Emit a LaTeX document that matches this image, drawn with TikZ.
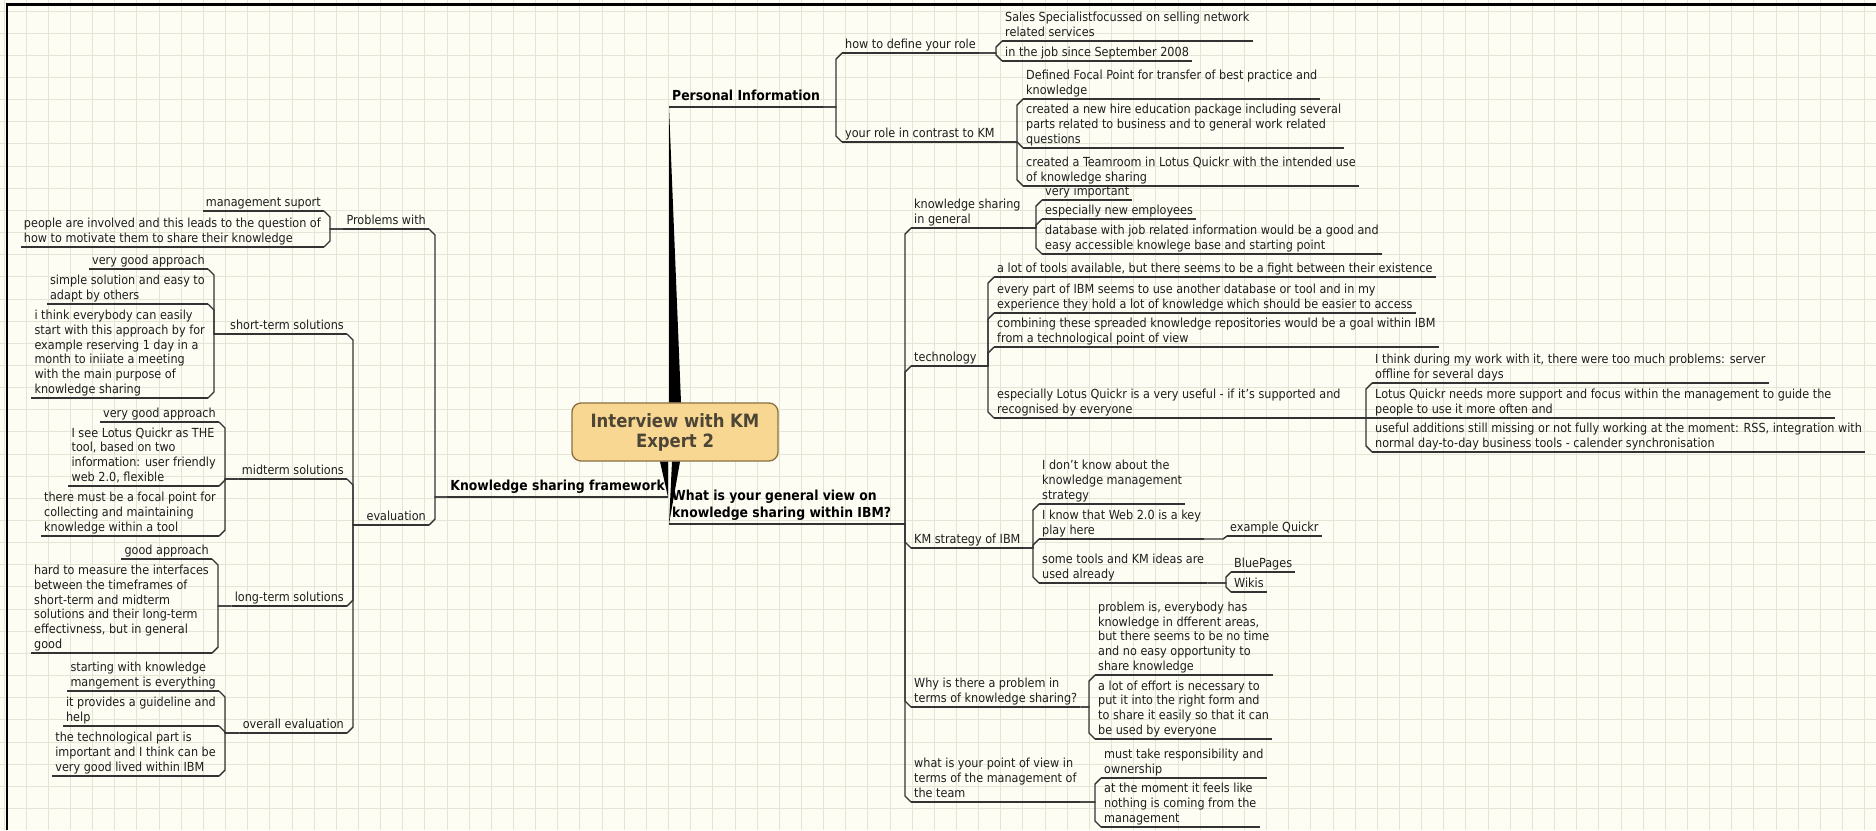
\documentclass[tikz,border=0pt]{standalone}
\usepackage{fontspec}
\IfFontExistsTF{DejaVu Sans Condensed}
  {\setmainfont{DejaVu Sans Condensed}}
  {\setmainfont{DejaVu Sans}[FakeStretch=0.9]}
\definecolor{paper}{HTML}{FDFDF3}
\definecolor{gridc}{HTML}{E4E6D5}
\definecolor{linec}{HTML}{333333}
\definecolor{leaftext}{HTML}{1E1E1E}
\definecolor{rootfill}{HTML}{F8D793}
\definecolor{rootdraw}{HTML}{8B6F3E}
\definecolor{roottext}{HTML}{4D4535}

\begin{document}
\begin{tikzpicture}[x=1pt, y=-1pt,
    central/.style={rectangle, rounded corners=9pt, draw=rootdraw, fill=rootfill, line width=1.3pt,
      minimum width=206pt, minimum height=58pt, align=center, text=roottext,
      font=\fontsize{18.3}{20}\selectfont\bfseries},
    main/.style={font=\fontsize{13.8}{17}\selectfont\bfseries, align=left,
      inner xsep=3pt, inner ysep=0.5pt, text depth=5.5pt},
    leaf/.style={font=\fontsize{12.5}{14.7}\selectfont, text=leaftext, align=left,
      inner xsep=3pt, inner ysep=0.5pt, text depth=4pt},
    link/.style={draw=linec, line width=1.4pt},
    spoke/.style={fill=black}]

\useasboundingbox (0,0) rectangle (1876,830);
\fill[paper] (0,0) rectangle (1876,830);
\begin{scope}[shift={(4,11)}]
  \draw[gridc, line width=0.9pt] (-4,-11) grid[step=22.15pt] (1872,819);
\end{scope}
\draw[line width=2.5pt] (7,830) -- (7,4.5) -- (1876,4.5);

\node[central] (root) at (675,432) {Interview with KM\\Expert 2};

% right: personal information
\node[main, anchor=south west] (pi) at (669,107) {Personal Information};
\node[leaf, anchor=south west] (role) at (842,53) {how to define your role};
\node[leaf, anchor=south west] (contrast) at (842,142) {your role in contrast to KM};
\node[leaf, anchor=south west] (sales) at (1002,41) {Sales Specialistfocussed on selling network\\related services};
\node[leaf, anchor=south west] (job) at (1002,61) {in the job since September 2008};
\node[leaf, anchor=south west] (focal) at (1023,99) {Defined Focal Point for transfer of best practice and\\knowledge};
\node[leaf, anchor=south west] (hire) at (1023,148) {created a new hire education package including several\\parts related to business and to general work related\\questions};
\node[leaf, anchor=south west] (teamroom) at (1023,186) {created a Teamroom in Lotus Quickr with the intended use\\of knowledge sharing};

% right: general view
\node[main, anchor=south west] (gv) at (669,524) {What is your general view on\\knowledge sharing within IBM?};
\node[leaf, anchor=south west] (ksg) at (911,228) {knowledge sharing\\in general};
\node[leaf, anchor=south west] (tech) at (911,366) {technology};
\node[leaf, anchor=south west] (kms) at (911,548) {KM strategy of IBM};
\node[leaf, anchor=south west] (why) at (911,707) {Why is there a problem in\\terms of knowledge sharing?};
\node[leaf, anchor=south west] (pov) at (911,802) {what is your point of view in\\terms of the management of\\the team};

\node[leaf, anchor=south west] (vimp) at (1042,200) {very important};
\node[leaf, anchor=south west] (newemp) at (1042,219) {especially new employees};
\node[leaf, anchor=south west] (database) at (1042,254) {database with job related information would be a good and\\easy accessible knowlege base and starting point};

\node[leaf, anchor=south west] (tools) at (994,277) {a lot of tools available, but there seems to be a fight between their existence};
\node[leaf, anchor=south west] (everypart) at (994,313) {every part of IBM seems to use another database or tool and in my\\experience they hold a lot of knowledge which should be easier to access};
\node[leaf, anchor=south west] (combining) at (994,347) {combining these spreaded knowledge repositories would be a goal within IBM\\from a technological point of view};
\node[leaf, anchor=south west] (quickr) at (994,418) {especially Lotus Quickr is a very useful - if it's supported and\\recognised by everyone};
\node[leaf, anchor=south west] (server) at (1372,383) {I think during my work with it, there were too much problems: server\\offline for several days};
\node[leaf, anchor=south west] (support) at (1372,418) {Lotus Quickr needs more support and focus within the management to guide the\\people to use it more often and};
\node[leaf, anchor=south west] (additions) at (1372,452) {useful additions still missing or not fully working at the moment: RSS, integration with\\normal day-to-day business tools - calender synchronisation};

\node[leaf, anchor=south west] (dontknow) at (1039,504) {I don't know about the\\knowledge management\\strategy};
\node[leaf, anchor=south west] (web) at (1039,539) {I know that Web 2.0 is a key\\play here};
\node[leaf, anchor=south west] (example) at (1227,536) {example Quickr};
\node[leaf, anchor=south west] (sometools) at (1039,583) {some tools and KM ideas are\\used already};
\node[leaf, anchor=south west] (bluepages) at (1231,572) {BluePages};
\node[leaf, anchor=south west] (wikis) at (1231,592) {Wikis};

\node[leaf, anchor=south west] (problem) at (1095,675) {problem is, everybody has\\knowledge in dfferent areas,\\but there seems to be no time\\and no easy opportunity to\\share knowledge};
\node[leaf, anchor=south west] (effort) at (1095,739) {a lot of effort is necessary to\\put it into the right form and\\to share it easily so that it can\\be used by everyone};
\node[leaf, anchor=south west] (ownership) at (1101,778) {must take responsibility and\\ownership};
\node[leaf, anchor=south west] (nothing) at (1101,827) {at the moment it feels like\\nothing is coming from the\\management};

% left: knowledge sharing framework
\node[main, anchor=south east] (ksf) at (668,497) {Knowledge sharing framework};
\node[leaf, anchor=south east] (problems) at (429,229) {Problems with};
\node[leaf, anchor=south east] (evaluation) at (429,525) {evaluation};
\node[leaf, anchor=south east] (mgmt) at (324,211) {management suport};
\node[leaf, anchor=south east] (people) at (324,247) {people are involved and this leads to the question of\\how to motivate them to share their knowledge};

\node[leaf, anchor=south east] (short) at (347,334) {short-term solutions};
\node[leaf, anchor=south east] (mid) at (347,479) {midterm solutions};
\node[leaf, anchor=south east] (long) at (347,606) {long-term solutions};
\node[leaf, anchor=south east] (overall) at (347,733) {overall evaluation};

\node[leaf, anchor=south east] (vga1) at (208,269) {very good approach};
\node[leaf, anchor=south east] (simple) at (208,304) {simple solution and easy to\\adapt by others};
\node[leaf, anchor=south east] (ithink) at (208,398) {i think everybody can easily\\start with this approach by for\\example reserving 1 day in a\\month to iniiate a meeting\\with the main purpose of\\knowledge sharing};
\node[leaf, anchor=south east] (vga2) at (219,422) {very good approach};
\node[leaf, anchor=south east] (isee) at (219,486) {I see Lotus Quickr as THE\\tool, based on two\\information: user friendly\\web 2.0, flexible};
\node[leaf, anchor=south east] (focalpt) at (219,536) {there must be a focal point for\\collecting and maintaining\\knowledge within a tool};
\node[leaf, anchor=south east] (good) at (212,559) {good approach};
\node[leaf, anchor=south east] (measure) at (212,653) {hard to measure the interfaces\\between the timeframes of\\short-term and midterm\\solutions and their long-term\\effectivness, but in general\\good};
\node[leaf, anchor=south east] (starting) at (219,691) {starting with knowledge\\mangement is everything};
\node[leaf, anchor=south east] (guideline) at (219,726) {it provides a guideline and\\help};
\node[leaf, anchor=south east] (technological) at (219,776) {the technological part is\\important and I think can be\\very good lived within IBM};

% underlines
\foreach \n in {pi,role,contrast,sales,job,focal,hire,teamroom,gv,ksg,tech,kms,why,pov,
    vimp,newemp,database,tools,everypart,combining,quickr,server,support,additions,
    dontknow,web,example,sometools,bluepages,wikis,problem,effort,ownership,nothing,
    ksf,problems,evaluation,mgmt,people,short,mid,long,overall,vga1,simple,ithink,
    vga2,isee,focalpt,good,measure,starting,guideline,technological}
  \draw[link] (\n.south west) -- (\n.south east);

% spokes from the root
\fill[spoke] ([xshift=-6pt]root.north) -- ([xshift=6pt]root.north) -- (pi.south west) -- cycle;
\fill[spoke] ([xshift=-15pt]root.south) -- ([xshift=-7pt]root.south) -- (ksf.south east) -- cycle;
\fill[spoke] ([xshift=-3pt]root.south) -- ([xshift=5pt]root.south) -- (gv.south west) -- cycle;

% brackets, right side
\foreach \c/\s in {role/1, contrast/-1}
  \draw[link] (\c.south west) -- ++(-6,6*\s) |- (pi.south east);
\foreach \c/\s in {sales/1, job/-1}
  \draw[link] (\c.south west) -- ++(-6,6*\s) |- (role.south east);
\foreach \c/\s in {focal/1, hire/-1, teamroom/-1}
  \draw[link] (\c.south west) -- ++(-6,6*\s) |- (contrast.south east);
\foreach \c/\s in {ksg/1, tech/1, kms/-1, why/-1, pov/-1}
  \draw[link] (\c.south west) -- ++(-6,6*\s) |- (gv.south east);
\foreach \c/\s in {vimp/1, newemp/1, database/-1}
  \draw[link] (\c.south west) -- ++(-6,6*\s) |- (ksg.south east);
\foreach \c/\s in {tools/1, everypart/1, combining/1, quickr/-1}
  \draw[link] (\c.south west) -- ++(-6,6*\s) |- (tech.south east);
\foreach \c/\s in {server/1, additions/-1}
  \draw[link] (\c.south west) -- ++(-6,6*\s) |- (quickr.south east);
\draw[link] (support.south west) -- (quickr.south east);
\foreach \c/\s in {dontknow/1, web/1, sometools/-1}
  \draw[link] (\c.south west) -- ++(-6,6*\s) |- (kms.south east);
\draw[link] (example.south west) -- ++(-4,3) -- (web.south east);
\foreach \c/\s in {bluepages/1, wikis/-1}
  \draw[link] (\c.south west) -- ++(-5,5*\s) |- (sometools.south east);
\foreach \c/\s in {problem/1, effort/-1}
  \draw[link] (\c.south west) -- ++(-6,6*\s) |- (why.south east);
\foreach \c/\s in {ownership/1, nothing/-1}
  \draw[link] (\c.south west) -- ++(-6,6*\s) |- (pov.south east);

% brackets, left side
\foreach \c/\s in {problems/1, evaluation/-1}
  \draw[link] (\c.south east) -- ++(6,6*\s) |- (ksf.south west);
\foreach \c/\s in {mgmt/1, people/-1}
  \draw[link] (\c.south east) -- ++(6,6*\s) |- (problems.south west);
\foreach \c/\s in {short/1, mid/1, long/-1, overall/-1}
  \draw[link] (\c.south east) -- ++(6,6*\s) |- (evaluation.south west);
\foreach \c/\s in {vga1/1, simple/1, ithink/-1}
  \draw[link] (\c.south east) -- ++(6,6*\s) |- (short.south west);
\foreach \c/\s in {vga2/1, isee/-1, focalpt/-1}
  \draw[link] (\c.south east) -- ++(6,6*\s) |- (mid.south west);
\foreach \c/\s in {good/1, measure/-1}
  \draw[link] (\c.south east) -- ++(6,6*\s) |- (long.south west);
\foreach \c/\s in {starting/1, guideline/1, technological/-1}
  \draw[link] (\c.south east) -- ++(6,6*\s) |- (overall.south west);
\end{tikzpicture}
\end{document}
